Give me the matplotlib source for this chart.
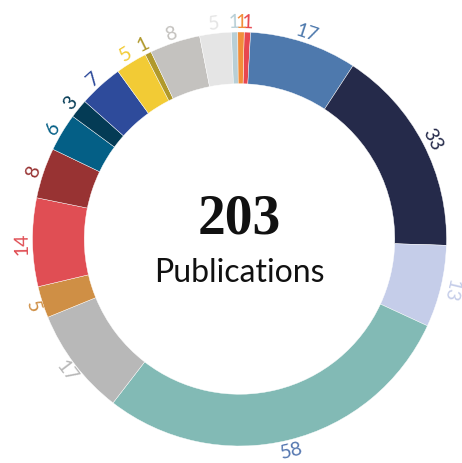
import numpy as np
import matplotlib
matplotlib.use("Agg")
import matplotlib.pyplot as plt

# slices, clockwise from the top
counts = [1, 17, 33, 13, 58, 17, 5, 14, 8, 6, 3, 7, 5, 1, 8, 5, 1, 1]
colors = ["#e8474f", "#4e79ad", "#252a4a", "#c5cde9", "#82bab5", "#b8b8b8",
          "#cf8f45", "#e04e54", "#983333", "#045f86", "#043b55", "#2e4b9b",
          "#f2cb35", "#b0992c", "#c4c2bf", "#e5e5e5", "#b8cfd6", "#f28e3a"]
label_colors = list(colors)
label_colors[4] = "#5577b0"   # the 58 label is drawn in blue
total_label = "203"
sub_label = "Publications"

W, H = 462, 464
R_PX = 207
CX, CY = 239.5, 240  # centre in pixels from top-left

fig = plt.figure(figsize=(W / 100, H / 100), dpi=100)
ax = fig.add_axes([0, 0, 1, 1])
ax.axis("off")

start = 88.7
ax.pie(counts, colors=colors, startangle=start, counterclock=False,
       radius=1.0, wedgeprops=dict(width=0.25, edgecolor="white", linewidth=0.3))

ax.set_aspect("auto")
ax.set_xlim(-CX / R_PX, (W - CX) / R_PX)
ax.set_ylim(-(H - CY) / R_PX, CY / R_PX)

# tangential value labels
cum = np.cumsum([0] + counts[:-1])
tot = sum(counts)
r_lab = 1.05
for c, v, col in zip(cum, counts, label_colors):
    theta = (90 - start) + (c + v / 2) / tot * 360  # clockwise from top
    a = np.radians(90 - theta)
    if 110 < theta < 265:
        rot = 180 - theta
    else:
        rot = -theta
    ax.text(r_lab * np.cos(a), r_lab * np.sin(a), str(v), color=col,
            fontsize=14, family="Lato",
            ha="center", va="center", rotation=rot, rotation_mode="anchor")

ax.text(0, (CY - 220) / R_PX, total_label, fontsize=40, fontweight="bold",
        family="Liberation Serif", ha="center", va="center", color="#111111")
ax.text(0, (CY - 273) / R_PX, sub_label, fontsize=23, family="Lato",
        ha="center", va="center", color="#111111")

fig.savefig("out.png", dpi=100, facecolor="white")
